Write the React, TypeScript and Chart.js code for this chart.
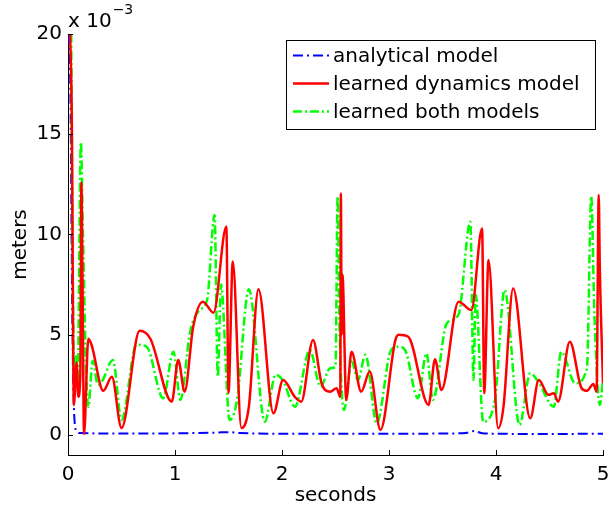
import React, { useEffect, useRef } from "react";
import { Chart, registerables } from "chart.js";

Chart.register(...registerables);

// values in units of 10^-3 meters, time in seconds
const xTicks = [0, 1, 2, 3, 4, 5];
const yTicks = [0, 5, 10, 15, 20];
const seriesNames = ["analytical model", "learned dynamics model", "learned both models"];
const exponentText = "x 10";
const exponentPower = "\u22123";
const xTitle = "seconds";
const yTitle = "meters";

const analyticalT = [0, 0.02, 0.04, 0.06, 0.08, 0.11, 0.5, 1.0, 1.4, 1.5, 1.6, 2.0, 2.5, 3.0, 3.5, 3.72, 3.8, 3.86, 4.0, 4.5, 5.0];
const analyticalV = [20, 18, 6, 0.8, 0.2, 0.1, 0.07, 0.08, 0.12, 0.14, 0.1, 0.06, 0.06, 0.06, 0.07, 0.1, 0.2, 0.1, 0.06, 0.05, 0.06];

const dynamicsT = [0.02, 0.035, 0.055, 0.08, 0.096, 0.115, 0.125, 0.135, 0.15, 0.19, 0.22, 0.33, 0.41, 0.5, 0.67, 0.77, 0.97, 1.03, 1.09, 1.17, 1.26, 1.36, 1.48, 1.5, 1.54, 1.62, 1.69, 1.78, 1.92, 2.01, 2.12, 2.18, 2.29, 2.37, 2.45, 2.51, 2.545, 2.55, 2.558, 2.565, 2.6, 2.65, 2.74, 2.82, 2.92, 3.06, 3.09, 3.18, 3.37, 3.43, 3.49, 3.65, 3.77, 3.87, 3.89, 3.93, 4.02, 4.07, 4.16, 4.32, 4.4, 4.49, 4.54, 4.58, 4.69, 4.8, 4.85, 4.91, 4.94, 4.96, 4.97, 5.0];
const dynamicsV = [20, 16, 1.5, 3.6, 1.9, 3.0, 12.6, 8.0, 0.05, 4.8, 4.5, 2.2, 2.9, 0.35, 5.2, 4.8, 1.66, 3.74, 2.16, 5.4, 6.65, 6.1, 10.4, 2.1, 8.65, 0.35, 1.4, 7.27, 1.08, 2.74, 1.9, 1.66, 4.74, 2.58, 2.16, 2.33, 1.9, 12.05, 5.0, 8.0, 1.75, 4.15, 2.16, 3.16, 0.25, 4.74, 5.0, 4.9, 1.5, 3.77, 2.24, 6.65, 6.23, 10.3, 2.08, 8.73, 0.33, 1.41, 7.3, 0.83, 2.74, 2.0, 2.08, 1.66, 4.65, 2.33, 2.2, 2.54, 2.16, 11.97, 8.4, 2.58];

const bothT = [0.03, 0.045, 0.06, 0.075, 0.09, 0.12, 0.14, 0.17, 0.19, 0.23, 0.28, 0.32, 0.42, 0.5, 0.64, 0.735, 0.89, 0.985, 1.05, 1.14, 1.23, 1.3, 1.37, 1.4, 1.43, 1.51, 1.58, 1.69, 1.84, 1.94, 2.01, 2.12, 2.26, 2.36, 2.45, 2.5, 2.52, 2.535, 2.58, 2.65, 2.71, 2.78, 2.885, 3.02, 3.09, 3.15, 3.27, 3.35, 3.41, 3.54, 3.65, 3.76, 3.79, 3.81, 3.88, 3.99, 4.08, 4.22, 4.32, 4.4, 4.54, 4.61, 4.74, 4.85, 4.89, 4.92, 4.97, 5.0];
const bothV = [20, 8, 2.3, 4.0, 2.5, 14.6, 10, 3.0, 1.4, 3.7, 2.5, 2.7, 3.74, 0.75, 4.5, 4.4, 1.83, 4.15, 1.75, 5.1, 6.23, 6.73, 10.97, 2.9, 7.5, 0.75, 1.75, 7.27, 0.66, 3.0, 2.7, 1.41, 4.24, 2.41, 3.33, 3.4, 11.9, 6.0, 1.25, 3.66, 2.74, 4.0, 0.58, 4.24, 4.4, 4.24, 1.83, 4.07, 1.75, 5.57, 6.0, 10.64, 2.74, 7.0, 0.66, 1.75, 7.23, 0.5, 3.08, 2.6, 1.41, 4.15, 2.58, 3.33, 11.9, 6.0, 1.5, 2.7];

const colors = ["#0000ff", "#ff0000", "#00ff00"];
const dashes = [[10, 4, 2, 4], [], [9, 3, 2, 3]];
const widths = [2, 2.5, 2.5];

const FONT = "'DejaVu Sans', sans-serif";

function pts(t: number[], v: number[]) {
  return t.map((x, i) => ({ x, y: v[i] }));
}

const extrasPlugin = {
  id: "extras",
  afterDraw(chart: any) {
    const ctx = chart.ctx as CanvasRenderingContext2D;
    const xs = chart.scales.x;
    const ys = chart.scales.y;
    const area = chart.chartArea;
    ctx.save();
    // inward ticks
    ctx.strokeStyle = "#000";
    ctx.lineWidth = 1;
    ctx.beginPath();
    for (const v of yTicks) {
      const py = Math.round(ys.getPixelForValue(v)) + 0.5;
      ctx.moveTo(area.left, py);
      ctx.lineTo(area.left + 5, py);
    }
    for (const v of xTicks) {
      const px = Math.round(xs.getPixelForValue(v)) + 0.5;
      ctx.moveTo(px, area.bottom);
      ctx.lineTo(px, area.bottom - 5);
    }
    ctx.stroke();

    // exponent label
    ctx.fillStyle = "#000";
    ctx.textBaseline = "alphabetic";
    ctx.textAlign = "left";
    ctx.font = "20px " + FONT;
    ctx.fillText(exponentText, area.left, 27);
    const w = ctx.measureText(exponentText).width;
    ctx.font = "14px " + FONT;
    ctx.fillText(exponentPower, area.left + w + 1, 14);

    // legend
    const bx = 286, by = 40, bw = 309, bh = 89;
    ctx.fillStyle = "#fff";
    ctx.fillRect(bx, by, bw, bh);
    ctx.strokeStyle = "#000";
    ctx.lineWidth = 1;
    ctx.strokeRect(bx + 0.5, by + 0.5, bw, bh);
    const rows = [55.5, 83.5, 111.5];
    for (let i = 0; i < 3; i++) {
      ctx.beginPath();
      ctx.strokeStyle = colors[i];
      ctx.lineWidth = widths[i];
      ctx.setLineDash(dashes[i]);
      ctx.moveTo(293, rows[i]);
      ctx.lineTo(329, rows[i]);
      ctx.stroke();
      ctx.setLineDash([]);
      ctx.fillStyle = "#000";
      ctx.font = "20px " + FONT;
      ctx.textBaseline = "middle";
      ctx.fillText(seriesNames[i], 333, rows[i] + 1);
    }
    ctx.restore();
  },
};

export default function App() {
  const ref = useRef<HTMLCanvasElement>(null);
  useEffect(() => {
    document.body.style.margin = "0";
    const canvas = ref.current!;
    const data = [pts(analyticalT, analyticalV), pts(dynamicsT, dynamicsV), pts(bothT, bothV)];
    const orders = [2, 0, 1];
    const chart = new Chart(canvas, {
      type: "line",
      data: {
        datasets: data.map((d, i) => ({
          label: seriesNames[i],
          data: d,
          borderColor: colors[i],
          backgroundColor: colors[i],
          borderWidth: widths[i],
          borderDash: dashes[i],
          pointRadius: 0,
          fill: false,
          cubicInterpolationMode: "monotone" as const,
          order: orders[i],
        })),
      },
      options: {
        responsive: false,
        animation: false,
        devicePixelRatio: 1,
        layout: { padding: { left: 0, top: 34, right: 6, bottom: 0 } },
        plugins: { legend: { display: false }, tooltip: { enabled: false } },
        scales: {
          x: {
            type: "linear",
            min: 0,
            max: 5,
            afterFit: (s: any) => { s.height = 59; s.paddingLeft = 0; s.paddingRight = 0; },
            afterBuildTicks: (s: any) => { s.ticks = xTicks.map((v) => ({ value: v })); },
            ticks: { color: "#000", font: { family: FONT, size: 20 }, padding: 8, maxRotation: 0 },
            grid: { display: false, drawTicks: false },
            border: { display: true, color: "#000", width: 1 },
            title: { display: true, text: xTitle, color: "#000", font: { family: FONT, size: 20 }, padding: { top: 0, bottom: 6 } },
          },
          y: {
            type: "linear",
            min: -1,
            max: 20,
            afterFit: (s: any) => { s.width = 68; s.paddingTop = 0; s.paddingBottom = 0; },
            afterBuildTicks: (s: any) => { s.ticks = yTicks.map((v) => ({ value: v })); },
            ticks: { color: "#000", font: { family: FONT, size: 20 }, padding: 6 },
            grid: { display: false, drawTicks: false },
            border: { display: true, color: "#000", width: 1 },
            title: { display: true, text: yTitle, color: "#000", font: { family: FONT, size: 20 }, padding: { top: 9, bottom: 0 } },
          },
        },
      },
      plugins: [extrasPlugin],
    });
    return () => chart.destroy();
  }, []);
  return (
    <div style={{ position: "absolute", left: 0, top: 0, width: 609, height: 514 }}>
      <canvas ref={ref} width={609} height={514} style={{ display: "block" }} />
    </div>
  );
}
